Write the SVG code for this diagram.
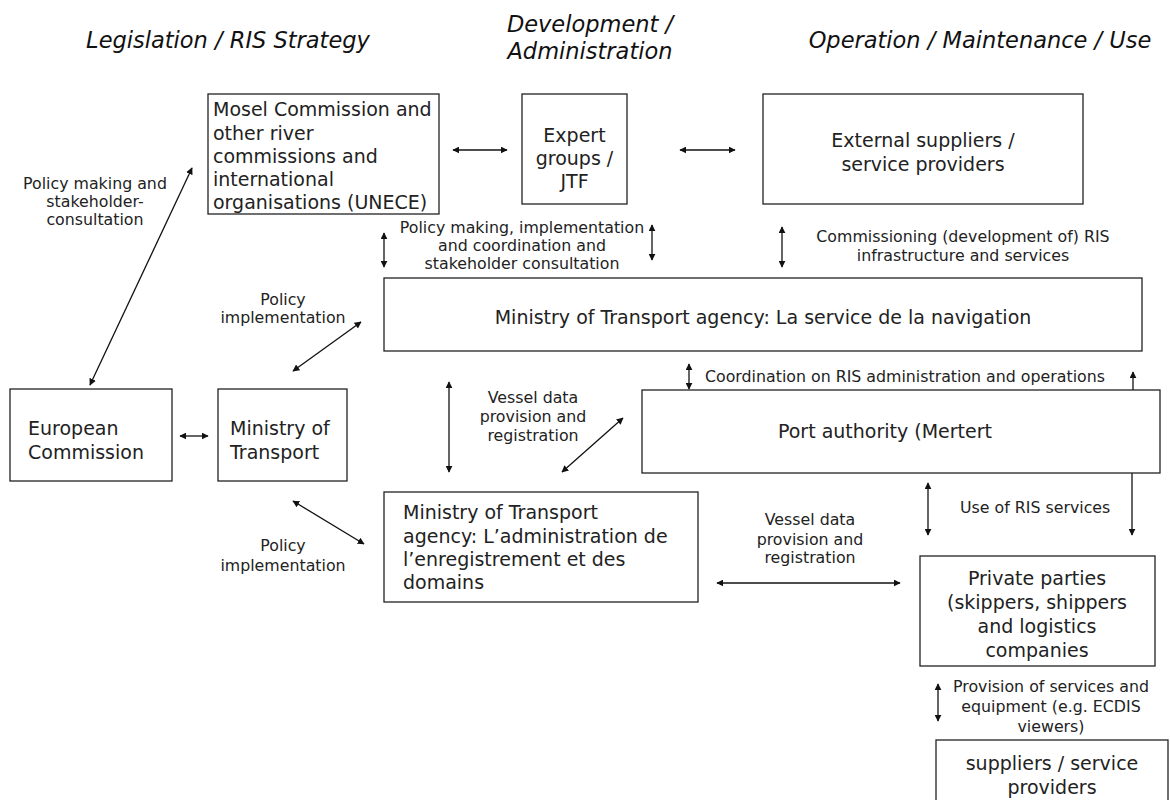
<svg xmlns="http://www.w3.org/2000/svg" width="1170" height="800" viewBox="0 0 1170 800">
<style>
.box{fill:#fff;stroke:#222;stroke-width:1.3}
.t{font-family:"DejaVu Sans",Verdana,sans-serif;font-size:19px;fill:#222}
.s{font-family:"DejaVu Sans",Verdana,sans-serif;font-size:15.8px;fill:#222}
.h{font-family:"DejaVu Sans",Verdana,sans-serif;font-size:22.5px;font-style:italic;fill:#111}
.c{text-anchor:middle}
.ln{stroke:#111;stroke-width:1.3;fill:none}
.d{marker-start:url(#ah);marker-end:url(#ah)}
.e{marker-end:url(#ah)}
</style>
<defs>
<marker id="ah" viewBox="0 0 10 10" refX="9" refY="5" markerWidth="7" markerHeight="7" markerUnits="userSpaceOnUse" orient="auto-start-reverse">
<path d="M0,0 L10,5 L0,10 z" fill="#111"/>
</marker>
</defs>
<rect width="1170" height="800" fill="#fff"/>
<g id="headers">
<text class="h c" x="228" y="48">Legislation / RIS Strategy</text>
<text class="h c" x="590" y="32">Development /</text>
<text class="h c" x="590" y="59">Administration</text>
<text class="h c" x="980" y="48">Operation / Maintenance / Use</text>
</g>
<g id="connectors">
<line class="ln d" x1="453" y1="150" x2="507" y2="150"/>
<line class="ln d" x1="680" y1="150" x2="735" y2="150"/>
<line class="ln d" x1="90" y1="385" x2="192" y2="168"/>
<line class="ln d" x1="384" y1="233" x2="384" y2="267"/>
<line class="ln d" x1="652" y1="225" x2="652" y2="260"/>
<line class="ln d" x1="782" y1="227" x2="782" y2="267"/>
<line class="ln d" x1="293" y1="371" x2="361" y2="322"/>
<line class="ln d" x1="180" y1="436" x2="208" y2="436"/>
<line class="ln d" x1="293" y1="501" x2="364" y2="544"/>
<line class="ln d" x1="449" y1="382" x2="449" y2="472"/>
<line class="ln d" x1="562" y1="472" x2="623" y2="418"/>
<line class="ln d" x1="689" y1="364" x2="689" y2="389"/>
<line class="ln e" x1="1133" y1="390" x2="1133" y2="372"/>
<line class="ln d" x1="928" y1="483" x2="928" y2="535"/>
<line class="ln e" x1="1132" y1="473" x2="1132" y2="535"/>
<line class="ln d" x1="717" y1="583" x2="900" y2="583"/>
<line class="ln d" x1="938" y1="684" x2="938" y2="721"/>
</g>
<g id="labels">
<text class="s c" x="95" y="189">Policy making and</text>
<text class="s c" x="95" y="207">stakeholder-</text>
<text class="s c" x="95" y="225">consultation</text>
<text class="s c" x="522" y="233">Policy making, implementation</text>
<text class="s c" x="522" y="251">and coordination and</text>
<text class="s c" x="522" y="269">stakeholder consultation</text>
<text class="s c" x="963" y="242">Commissioning (development of) RIS</text>
<text class="s c" x="963" y="261">infrastructure and services</text>
<text class="s c" x="283" y="305">Policy</text>
<text class="s c" x="283" y="323">implementation</text>
<text class="s c" x="533" y="403">Vessel data</text>
<text class="s c" x="533" y="422">provision and</text>
<text class="s c" x="533" y="441">registration</text>
<text class="s" x="705" y="382">Coordination on RIS administration and operations</text>
<text class="s" x="960" y="513">Use of RIS services</text>
<text class="s c" x="810" y="525">Vessel data</text>
<text class="s c" x="810" y="545">provision and</text>
<text class="s c" x="810" y="563">registration</text>
<text class="s c" x="283" y="551">Policy</text>
<text class="s c" x="283" y="571">implementation</text>
<text class="s c" x="1051" y="692">Provision of services and</text>
<text class="s c" x="1051" y="712">equipment (e.g. ECDIS</text>
<text class="s c" x="1051" y="732">viewers)</text>
</g>
<g id="mosel">
<rect class="box" x="208" y="94" width="231" height="120"/>
<text class="t" x="213" y="116">Mosel Commission and</text>
<text class="t" x="213" y="140">other river</text>
<text class="t" x="213" y="163">commissions and</text>
<text class="t" x="213" y="186">international</text>
<text class="t" x="213" y="209">organisations (UNECE)</text>
</g>
<g id="expert">
<rect class="box" x="522" y="94" width="105" height="110"/>
<text class="t c" x="574.5" y="142">Expert</text>
<text class="t c" x="574.5" y="165">groups /</text>
<text class="t c" x="574.5" y="188">JTF</text>
</g>
<g id="external">
<rect class="box" x="763" y="94" width="320" height="110"/>
<text class="t c" x="923" y="147">External suppliers /</text>
<text class="t c" x="923" y="171">service providers</text>
</g>
<g id="laservice">
<rect class="box" x="384" y="278" width="758" height="73"/>
<text class="t c" x="763" y="324">Ministry of Transport agency: La service de la navigation</text>
</g>
<g id="ec">
<rect class="box" x="10" y="389" width="162" height="92"/>
<text class="t" x="28" y="435">European</text>
<text class="t" x="28" y="459">Commission</text>
</g>
<g id="mot">
<rect class="box" x="218" y="389" width="129" height="92"/>
<text class="t" x="230" y="435">Ministry of</text>
<text class="t" x="230" y="459">Transport</text>
</g>
<g id="port">
<rect class="box" x="642" y="390" width="518" height="83"/>
<text class="t c" x="885" y="438">Port authority (Mertert</text>
</g>
<g id="ladmin">
<rect class="box" x="384" y="492" width="314" height="110"/>
<text class="t" x="403" y="519">Ministry of Transport</text>
<text class="t" x="403" y="543">agency: L’administration de</text>
<text class="t" x="403" y="566">l’enregistrement et des</text>
<text class="t" x="403" y="589">domains</text>
</g>
<g id="private">
<rect class="box" x="920" y="556" width="235" height="110"/>
<text class="t c" x="1037" y="585">Private parties</text>
<text class="t c" x="1037" y="609">(skippers, shippers</text>
<text class="t c" x="1037" y="633">and logistics</text>
<text class="t c" x="1037" y="657">companies</text>
</g>
<g id="suppliers">
<rect class="box" x="936" y="740" width="232" height="80"/>
<text class="t c" x="1052" y="770">suppliers / service</text>
<text class="t c" x="1052" y="794">providers</text>
</g>
</svg>
